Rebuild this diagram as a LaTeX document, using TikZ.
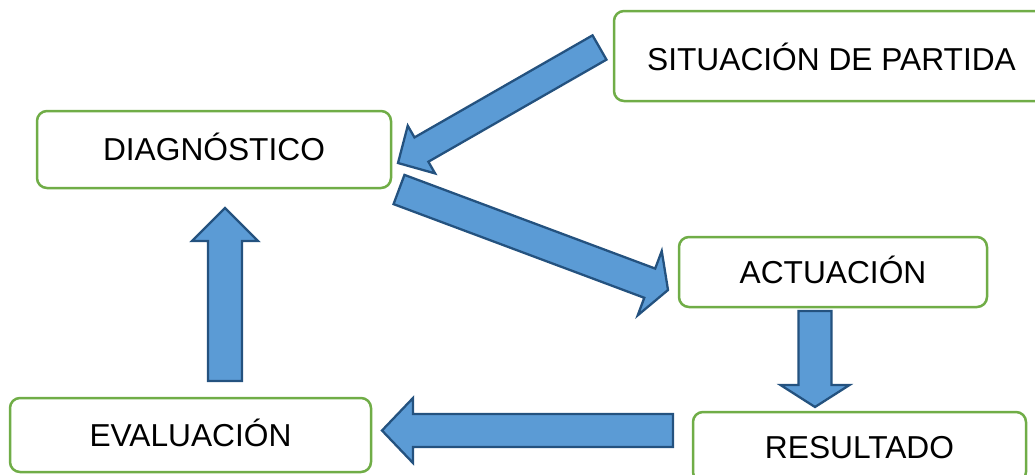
\documentclass[tikz,border=0pt]{standalone}
\usepackage{fontspec}
\setmainfont{Liberation Sans}
\usetikzlibrary{calc}
\definecolor{boxgreen}{HTML}{70AD47}
\definecolor{arrowfill}{HTML}{5B9BD5}
\definecolor{arrowline}{HTML}{24527F}
\tikzset{
  stepbox/.style={draw=boxgreen, line width=2.5pt, rounded corners=10pt, fill=white,
    text height=22.8pt, text depth=0pt, inner sep=0pt,
    font=\fontsize{31.7}{38}\selectfont},
  barrow/.style={fill=arrowfill, draw=arrowline, line width=2.3pt, line join=miter}
}
\newcommand\blockarrow[5]{%
  \path ($(#2)!#5!(#1)$) coordinate (bh);
  \draw[barrow] ($(#1)!#3!90:(#2)$) -- ($(bh)!#3!90:(#2)$) -- ($(bh)!#4!90:(#2)$)
    -- (#2) -- ($(bh)!#4!-90:(#2)$) -- ($(bh)!#3!-90:(#2)$) -- ($(#1)!#3!-90:(#2)$) -- cycle;}
\begin{document}
\begin{tikzpicture}[x=1pt,y=-1pt]
\useasboundingbox (0,0) rectangle (1035,474);
\clip (0,0) rectangle (1035,474);
\node[stepbox, minimum width=354pt, minimum height=77pt] (diag) at (214,149.5) {DIAGNÓSTICO};
\node[stepbox, minimum width=435pt, minimum height=90pt, text height=28pt] (sit) at (831.5,56) {SITUACIÓN DE PARTIDA};
\node[stepbox, minimum width=308pt, minimum height=70pt] (act) at (833,272) {ACTUACIÓN};
\node[stepbox, minimum width=333pt, minimum height=70pt] (res) at (859.5,447) {RESULTADO};
\node[stepbox, minimum width=361pt, minimum height=74pt] (eval) at (190.5,435) {EVALUACIÓN};
% arrow end points
\coordinate (a1s) at (599.5,47.5);
\coordinate (a1e) at (398,163);
\coordinate (a2s) at (399,189.5);
\coordinate (a2e) at (668,290);
\coordinate (a3s) at (815,311);
\coordinate (a3e) at (815,407);
\coordinate (a4s) at (673,430.5);
\coordinate (a4e) at (382,430.5);
\coordinate (a5s) at (225,381);
\coordinate (a5e) at (225,208);
\blockarrow{a1s}{a1e}{14pt}{27.5pt}{27pt}
\blockarrow{a2s}{a2e}{15.6pt}{34.3pt}{19.5pt}
\blockarrow{a3s}{a3e}{16.5pt}{34.5pt}{22pt}
\blockarrow{a4s}{a4e}{16.5pt}{32.5pt}{31pt}
\blockarrow{a5s}{a5e}{17pt}{33pt}{33pt}
\end{tikzpicture}
\end{document}
